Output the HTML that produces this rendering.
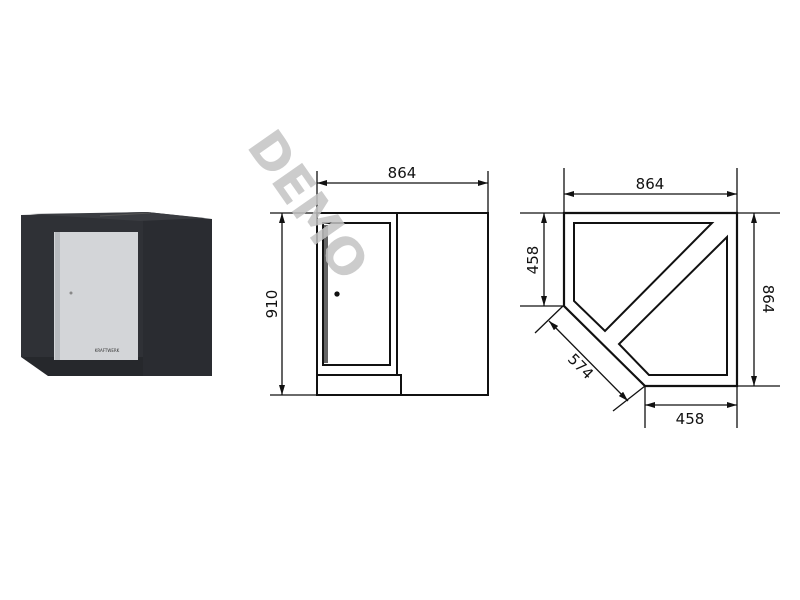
<!DOCTYPE html>
<html><head><style>
html,body{margin:0;padding:0;background:#fff;width:800px;height:600px;overflow:hidden}
svg{display:block}
text{font-family:"DejaVu Sans","Liberation Sans",sans-serif;fill:#111}
</style></head><body>
<svg width="800" height="600" viewBox="0 0 800 600">
<defs>
<marker id="a" viewBox="0 0 10 6" refX="10" refY="3" markerWidth="10" markerHeight="6" orient="auto-start-reverse" markerUnits="userSpaceOnUse"><path d="M0,0L10,3L0,6z" fill="#111"/></marker>
</defs>
<!-- cabinet photo -->
<polygon points="21,215 147,212 212,219 212,376 143,376 143,357 21,357" fill="#2f3136"/>
<polygon points="21,357 143,357 143,376 48,376" fill="#26282c"/>
<polygon points="143,219 212,219 212,376 143,376" fill="#2a2c31"/>
<polygon points="30,214 147,212 205,218 140,221" fill="#3a3c41"/>
<line x1="100" y1="216" x2="150" y2="213" stroke="#555" stroke-width="1"/>
<rect x="54" y="232" width="84" height="128" fill="#d3d5d8"/>
<rect x="55" y="232" width="5" height="128" fill="#b8bbbf"/>
<circle cx="71" cy="293" r="1.5" fill="#888"/>
<text x="107" y="352" font-size="4" text-anchor="middle" style="fill:#333">KRAFTWERK</text>
<!-- front view -->
<g stroke="#111" fill="none" stroke-width="1.3">
<rect x="317" y="213" width="171" height="182" stroke-width="2"/>
<line x1="397" y1="213" x2="397" y2="375" stroke-width="2"/>
<polyline points="317,375 401,375 401,395" stroke-width="2"/>
<rect x="323" y="223" width="67" height="142" stroke-width="2"/>
<line x1="325" y1="225" x2="325" y2="363"/><line x1="327" y1="225" x2="327" y2="363"/>
<circle cx="337" cy="294" r="2" fill="#111"/>
<line x1="317" y1="171" x2="317" y2="213"/><line x1="488" y1="171" x2="488" y2="213"/>
<line x1="317" y1="183" x2="488" y2="183" marker-start="url(#a)" marker-end="url(#a)"/>
<line x1="270" y1="213" x2="317" y2="213"/><line x1="270" y1="395" x2="317" y2="395"/>
<line x1="282" y1="213" x2="282" y2="395" marker-start="url(#a)" marker-end="url(#a)"/>
</g>
<text x="402" y="178" font-size="15" text-anchor="middle">864</text>
<text transform="translate(277,304) rotate(-90)" font-size="15" text-anchor="middle">910</text>
<!-- top view -->
<g stroke="#111" fill="none" stroke-width="1.3">
<polygon points="564,213 737,213 737,386 645,386 564,306" stroke-width="2.2"/>
<polygon points="574,223 712,223 605,331 574,301" stroke-width="2"/>
<polygon points="727,237 727,375 649,375 619,344" stroke-width="2"/>
<line x1="564" y1="168" x2="564" y2="212"/><line x1="737" y1="168" x2="737" y2="212"/>
<line x1="564" y1="194" x2="737" y2="194" marker-start="url(#a)" marker-end="url(#a)"/>
<line x1="520" y1="213" x2="564" y2="213"/><line x1="520" y1="306" x2="564" y2="306"/>
<line x1="544" y1="213" x2="544" y2="306" marker-start="url(#a)" marker-end="url(#a)"/>
<line x1="737" y1="213" x2="780" y2="213"/><line x1="737" y1="386" x2="780" y2="386"/>
<line x1="754" y1="213" x2="754" y2="386" marker-start="url(#a)" marker-end="url(#a)"/>
<line x1="645" y1="386" x2="645" y2="428"/><line x1="737" y1="386" x2="737" y2="428"/>
<line x1="645" y1="405" x2="737" y2="405" marker-start="url(#a)" marker-end="url(#a)"/>
<line x1="535" y1="333" x2="563" y2="306"/><line x1="613" y1="411" x2="645" y2="386"/>
<line x1="549" y1="321" x2="628" y2="401" marker-start="url(#a)" marker-end="url(#a)"/>
</g>
<text x="650" y="189" font-size="15" text-anchor="middle">864</text>
<text transform="translate(538,260) rotate(-90)" font-size="15" text-anchor="middle">458</text>
<text transform="translate(763,299) rotate(90)" font-size="15" text-anchor="middle">864</text>
<text x="690" y="424" font-size="15" text-anchor="middle">458</text>
<text transform="translate(577,370) rotate(45)" font-size="15" text-anchor="middle">574</text>
<!-- watermark -->
<text transform="translate(305,207) rotate(55)" font-size="50" font-weight="bold" text-anchor="middle" dominant-baseline="middle" style="fill:#c4c4c4;opacity:0.85">DEMO</text>
</svg>
</body></html>
